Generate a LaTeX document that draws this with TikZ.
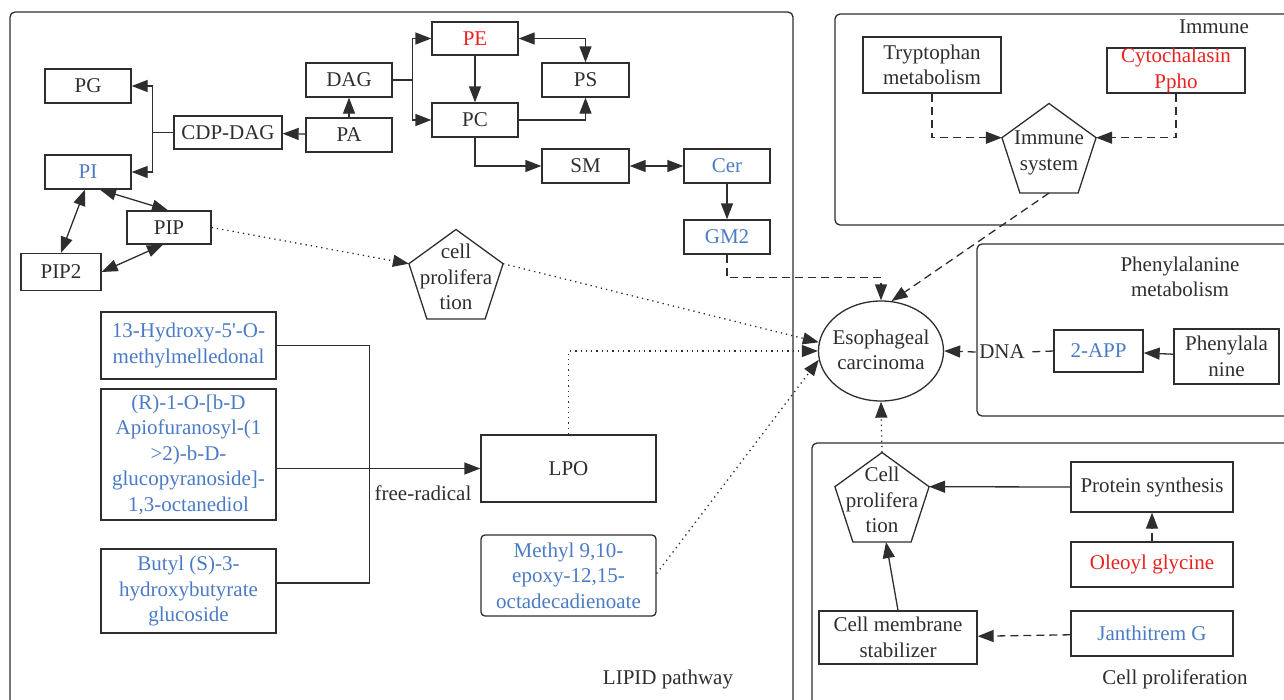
\documentclass[tikz,border=0pt]{standalone}
\usepackage{fontspec}
\setmainfont{Liberation Serif}
\usetikzlibrary{arrows.meta,shapes.geometric}
\definecolor{ink}{HTML}{2E2E2E}
\definecolor{lblue}{HTML}{4A7BC4}
\definecolor{lred}{HTML}{E8231E}
\tikzset{
  every node/.style={font=\fontsize{21}{25.5}\selectfont, text=ink},
  box/.style 2 args={draw=ink, line width=1.3pt, rectangle, inner sep=0pt, align=center,
    minimum width=#1, minimum height=#2},
  pent/.style={draw=ink, line width=1.3pt, regular polygon, regular polygon sides=5,
    minimum size=99pt, inner sep=0pt, outer sep=0pt},
  panel/.style={draw=ink, line width=1.3pt, rounded corners=5pt},
  conn/.style={draw=ink, line width=1.3pt},
  dashline/.style={dash pattern=on 8pt off 5pt},
  dotline/.style={dash pattern=on 1.3pt off 4pt},
}
\begin{document}
\begin{tikzpicture}[x=1pt,y=-1pt,>={Triangle[length=16pt,width=12pt]}]
      \clip (0,0) rectangle (1284,699);
      \draw[panel] (10,12) rectangle (793,730);
      \draw[panel] (835,14) rectangle (1310,225);
      \draw[panel] (977,244) rectangle (1310,416);
      \draw[panel] (812,443) rectangle (1310,730);

      \node (lipid) at (668,679) {LIPID pathway};
      \node (immune) at (1214,27) {Immune};
      \node[align=center] (phenylmet) at (1180,277) {Phenylalanine\\metabolism};
      \node (cellprol) at (1175,679) {Cell proliferation};

      \node[box={86}{34}] (PG) at (88,86) {PG};
      \node[box={86}{34}, text=lblue] (PI) at (88,172) {PI};
      \node[box={108}{33}] (CDP) at (228,132.5) {CDP-DAG};
      \node[box={86}{34}] (PA) at (349,135) {PA};
      \node[box={86}{34}] (DAG) at (349,80) {DAG};
      \node[box={86}{33}, text=lred] (PE) at (475,38.5) {PE};
      \node[box={87}{34}] (PS) at (585.5,80) {PS};
      \node[box={86}{34}] (PC) at (475,120) {PC};
      \node[box={87}{34}] (SM) at (585.5,166) {SM};
      \node[box={86}{34}, text=lblue] (Cer) at (727,166) {Cer};
      \node[box={86}{34}, text=lblue] (GM2) at (727,237) {GM2};
      \node[box={84}{33}] (PIP) at (169,227.5) {PIP};
      \node[box={80}{37}] (PIP2) at (61,272) {PIP2};

      \node[pent] (cp) at (456,279) {};
      \node[align=center] (cptext) at (456,277) {cell\\prolifera\\tion};

      \node[box={175}{67}, text=lblue] (hydroxy) at (188.5,345.5) {13-Hydroxy-5\textquotesingle-O-\\methylmelledonal};
      \node[box={175}{131}, text=lblue] (apio) at (188.5,454.5) {(R)-1-O-[b-D\\Apiofuranosyl-(1\\>2)-b-D-\\glucopyranoside]-\\1,3-octanediol};
      \node[box={175}{84}, text=lblue] (butyl) at (188.5,591) {Butyl (S)-3-\\hydroxybutyrate\\glucoside};
      \node (radical) at (423,493) {free-radical};
      \node[box={175}{67}] (LPO) at (568.5,468.5) {LPO};
      \node[box={175}{81}, rounded corners=4pt, text=lblue] (methyl) at (568.5,575.5) {Methyl 9,10-\\epoxy-12,15-\\octadecadienoate};

      \node[ellipse, draw=ink, line width=1.3pt, minimum width=125, minimum height=100,
        inner sep=0pt] (esc) at (881,351) {};
      \node[align=center] (esctext) at (881,350) {Esophageal\\carcinoma};

      \node[box={138}{56}] (tryp) at (932,65) {Tryptophan\\metabolism};
      \node[box={138}{45}, text=lred] (cyto) at (1176,70.5) {Cytochalasin\\Ppho};
      \node[pent] (imm) at (1049,153) {};
      \node[align=center] (immtext) at (1049,153) {Immune\\system};

      \node (dna) at (1002,352) {DNA};
      \node[box={89}{42}, text=lblue] (app) at (1098.5,351) {2-APP};
      \node[box={105}{55}] (phe) at (1226.5,356.5) {Phenylala\\nine};

      \node[pent] (cp2) at (882,502) {};
      \node[align=center] (cp2text) at (882,500) {Cell\\prolifera\\tion};
      \node[box={162}{50}] (prot) at (1152,487) {Protein synthesis};
      \node[box={162}{45}, text=lred] (oleoyl) at (1152,564.5) {Oleoyl glycine};
      \node[box={158}{53}] (mem) at (898,637.5) {Cell membrane\\stabilizer};
      \node[box={162}{45}, text=lblue] (jan) at (1152,633.5) {Janthitrem G};

      \begin{scope}[conn,->]
        \draw (PA) to (DAG);
        \draw (PA) to (CDP);
        \draw (DAG.east) -- ++(20,0) |- (PE.west);
        \draw (DAG.east) -- ++(20,0) |- (PC.west);
        \draw (CDP.west) -- ++(-21,0) |- (PG.east);
        \draw (CDP.west) -- ++(-21,0) |- (PI.east);
        \draw[<->] (PE.east) -| (PS.north);
        \draw (PE) to (PC);
        \draw (PC.east) -| (PS.south);
        \draw (PC.south) |- (SM.west);
        \draw[<->] (SM) to (Cer);
        \draw (Cer) to (GM2);
        \draw[<->] ([xshift=12pt]PI.south) -- ([xshift=-1pt]PIP.north);
        \draw[<->] ([xshift=-3pt]PI.south) -- (PIP2.north);
        \draw[<->] ([xshift=-6pt]PIP.south) -- (PIP2.east);
        \draw[dotline] (PIP.east) -- (cp.162);
        \draw[dotline] (cp.18) -- (esc.172);
        \draw[-] (hydroxy.east) -- ++(93,0) |- ([yshift=8pt]butyl.east);
        \draw (apio.east |- LPO.west) -- (LPO.west);
        \draw[dotline] (LPO.north) |- (esc.west);
        \draw[dotline] ([yshift=2pt]methyl.east) -- (esc.188);
        \draw[dashline] (GM2.south) -- ++(0,23) -| (esc.north);
        \draw[dashline] (imm.south) -- (esc.78);
        \draw[dashline] (tryp.south) |- (imm.162);
        \draw[dashline] (cyto.south) |- (imm.18);
        \draw[dashline,-] (app.west) -- (dna.east);
        \draw[dashline] (dna.west) -- (esc.east);
        \draw (phe) to (app);
        \draw[dotline] (cp2.north) -- (esc.south);
        \draw (prot.west) -- (cp2.18);
        \draw[dashline] (oleoyl) to (prot);
        \draw (mem.north) -- ([xshift=4pt]cp2.south);
        \draw[dashline] (jan) to (mem);
      \end{scope}
    \end{tikzpicture}
\end{document}
